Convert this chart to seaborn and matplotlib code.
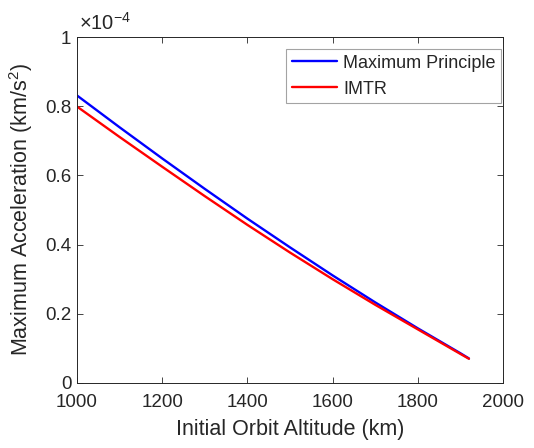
import numpy as np
import pandas as pd
import matplotlib
matplotlib.use("Agg")
import matplotlib.pyplot as plt
import seaborn as sns

# altitude (km) and max acceleration (units of 1e-4 km/s^2)
altitude = [1000, 1100, 1200, 1300, 1400, 1500, 1600, 1700, 1800, 1900, 1920]
acc_max_principle = [0.831, 0.739, 0.649, 0.561, 0.475, 0.392, 0.311, 0.233, 0.158, 0.086, 0.071]
acc_imtr = [0.799, 0.711, 0.625, 0.540, 0.457, 0.377, 0.300, 0.226, 0.155, 0.084, 0.070]

x_ticks = [1000, 1200, 1400, 1600, 1800, 2000]
y_ticks = [0, 0.2, 0.4, 0.6, 0.8, 1]
y_ticklabels = ["0", "0.2", "0.4", "0.6", "0.8", "1"]

df = pd.DataFrame({
    "alt": altitude * 2,
    "acc": acc_max_principle + acc_imtr,
    "method": ["Maximum Principle"] * len(altitude) + ["IMTR"] * len(altitude),
})

sns.set_style("ticks")
plt.rcParams["font.family"] = ["Liberation Sans", "DejaVu Sans"]
plt.rcParams["mathtext.fontset"] = "custom"
plt.rcParams["mathtext.rm"] = "Liberation Sans"
txt = "#262626"

fig = plt.figure(figsize=(5.34, 4.48), dpi=100)
ax = fig.add_axes([0.1442, 0.1451, 0.7978, 0.7723])

sns.lineplot(data=df, x="alt", y="acc", hue="method",
             palette={"Maximum Principle": "#0000ff", "IMTR": "#ff0000"},
             linewidth=1.7, ax=ax)

ax.set_xlim(1000, 2000)
ax.set_ylim(0, 1)
ax.set_xticks(x_ticks)
ax.set_yticks(y_ticks)
ax.set_yticklabels(y_ticklabels)
ax.tick_params(direction="in", length=4, width=0.6, top=True, right=True,
               labelsize=13.5, colors=txt, pad=4)
ax.tick_params(axis="x", pad=8)
for s in ax.spines.values():
    s.set_color(txt)
    s.set_linewidth(0.7)

ax.set_xlabel("Initial Orbit Altitude (km)", fontsize=15.5, color=txt, labelpad=6)
ax.set_ylabel("Maximum Acceleration (km/s$^2$)", fontsize=15.5, color=txt, labelpad=7)
ax.text(0.005, 1.01, r"$\times$10$^{-4}$", transform=ax.transAxes,
        fontsize=14.5, color=txt, ha="left", va="bottom")

leg = ax.legend(loc="upper right", bbox_to_anchor=(0.995, 0.965),
                fontsize=13, frameon=True, fancybox=False,
                handlelength=2.5, borderpad=0.3, labelspacing=0.5,
                borderaxespad=0, handletextpad=0.35)
leg.get_frame().set_edgecolor("#8c8c8c")
leg.get_frame().set_linewidth(0.8)
for t in leg.get_texts():
    t.set_color(txt)

fig.savefig("out.png", dpi=100)
